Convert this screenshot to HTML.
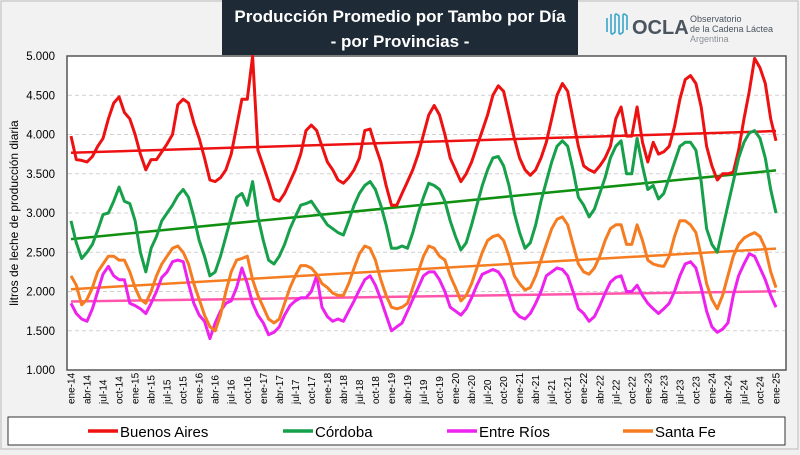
<!DOCTYPE html>
<html><head><meta charset="utf-8"><style>
body{margin:0;width:800px;height:450px;overflow:hidden;background:#f0f0f0;font-family:"Liberation Sans",sans-serif}
#wrap{position:relative;width:800px;height:450px}
</style></head><body>
<div id="wrap">
<svg id="chart" width="800" height="450" xmlns="http://www.w3.org/2000/svg">
<rect x="1" y="1" width="797" height="448" fill="#f2f2f2" stroke="#bbb"/>
<rect x="67" y="56" width="719" height="314" fill="#fff" stroke="#555" stroke-width="1.5"/>
<g id="grid"></g>
<g id="yticks"></g>
<g id="xticks"></g>
<g id="trends"></g>
<g id="series"></g>
<rect x="222" y="0" width="356" height="55" fill="#1e2a36"/>
<text x="400" y="22" text-anchor="middle" fill="#fff" font-size="17" font-weight="bold">Producción Promedio por Tambo por Día</text>
<text x="400" y="47" text-anchor="middle" fill="#fff" font-size="17" font-weight="bold">- por Provincias -</text>
<g>
<path d="M607 18 v14 M611 14 v18 q0 4 4 0 v-16 q0 -4 4 0 v16 q0 4 4 0 v-16 q0 -4 4 0 v14" stroke="#3aa6c9" stroke-width="1.6" fill="none"/>
<text x="632" y="34" font-size="20" font-weight="bold" fill="#4a5560">OCLA</text>
<text x="690" y="22" font-size="9" fill="#4a5560">Observatorio</text>
<text x="690" y="32" font-size="9" fill="#4a5560">de la Cadena Láctea</text>
<text x="690" y="42" font-size="9" fill="#8a9098">Argentina</text>
</g>
<text transform="translate(18,213) rotate(-90)" text-anchor="middle" font-size="12" fill="#000">litros de leche de producción diaria</text>
<rect x="8" y="417" width="777" height="28" fill="#fff" stroke="#333"/>
<g id="legend"></g>
</svg>
</div>
<script>
const tickLabels=["1.000","1.500","2.000","2.500","3.000","3.500","4.000","4.500","5.000"];
const tickValues=[1,1.5,2,2.5,3,3.5,4,4.5,5];
const monthNames=["ene","feb","mar","abr","may","jun","jul","ago","sep","oct","nov","dic"];
const seriesNames=["Buenos Aires","Córdoba","Entre Ríos","Santa Fe"];
const buenosAires=[3.98,3.68,3.67,3.65,3.72,3.85,3.95,4.20,4.40,4.48,4.28,4.20,
4.00,3.75,3.55,3.68,3.68,3.78,3.88,4.00,4.38,4.45,4.40,4.15,
3.95,3.70,3.42,3.40,3.45,3.55,3.75,4.10,4.45,4.45,5.00,3.80,
3.60,3.40,3.18,3.15,3.25,3.40,3.55,3.75,4.05,4.12,4.05,3.85,
3.65,3.55,3.42,3.38,3.45,3.55,3.70,4.05,4.07,3.85,3.65,3.35,
3.10,3.10,3.25,3.40,3.55,3.75,4.00,4.25,4.37,4.25,4.00,3.70,
3.55,3.40,3.50,3.65,3.85,4.05,4.25,4.50,4.62,4.55,4.25,3.95,
3.70,3.55,3.48,3.55,3.70,3.90,4.20,4.50,4.65,4.55,4.20,3.85,
3.60,3.55,3.52,3.60,3.70,3.85,4.20,4.35,3.98,3.98,4.35,3.90,
3.65,3.90,3.75,3.78,3.85,4.10,4.45,4.70,4.75,4.65,4.35,3.85,
3.60,3.42,3.50,3.50,3.52,3.80,4.20,4.55,4.97,4.85,4.65,4.20,
3.92];
const cordoba=[2.90,2.62,2.42,2.50,2.60,2.78,2.98,3.00,3.15,3.33,3.15,3.12,
2.90,2.50,2.25,2.55,2.70,2.90,3.00,3.10,3.22,3.30,3.20,2.95,
2.65,2.45,2.20,2.25,2.45,2.70,2.95,3.20,3.25,3.10,3.40,2.95,
2.65,2.40,2.35,2.45,2.60,2.80,2.95,3.10,3.12,3.15,3.05,2.95,
2.85,2.80,2.75,2.72,2.90,3.10,3.25,3.35,3.40,3.30,3.10,2.85,
2.55,2.55,2.58,2.55,2.75,3.00,3.20,3.38,3.35,3.30,3.15,2.90,
2.70,2.53,2.62,2.85,3.10,3.35,3.55,3.70,3.72,3.60,3.35,3.00,
2.75,2.55,2.62,2.85,3.15,3.40,3.65,3.85,3.92,3.85,3.55,3.20,
3.10,2.95,3.05,3.25,3.45,3.70,3.85,3.92,3.50,3.50,3.95,3.60,
3.30,3.35,3.18,3.25,3.45,3.65,3.85,3.90,3.90,3.80,3.40,2.80,
2.60,2.50,2.80,3.10,3.40,3.70,3.90,4.02,4.05,3.95,3.70,3.30,
3.00];
const entreRios=[1.85,1.72,1.65,1.62,1.78,2.00,2.22,2.32,2.20,2.15,2.15,1.85,
1.82,1.78,1.72,1.85,2.00,2.18,2.25,2.38,2.40,2.38,2.10,1.85,
1.70,1.62,1.40,1.60,1.75,1.85,1.88,2.05,2.30,2.10,1.85,1.70,
1.60,1.45,1.48,1.55,1.70,1.82,1.88,1.92,1.92,2.00,2.20,1.80,
1.68,1.62,1.65,1.62,1.75,1.88,2.02,2.15,2.20,2.08,1.90,1.70,
1.50,1.55,1.60,1.75,1.90,2.05,2.20,2.25,2.25,2.15,2.00,1.80,
1.75,1.70,1.78,1.92,2.08,2.22,2.25,2.28,2.25,2.15,1.95,1.75,
1.68,1.65,1.72,1.85,2.00,2.20,2.25,2.30,2.28,2.20,2.00,1.78,
1.72,1.62,1.68,1.82,1.98,2.12,2.18,2.20,2.00,2.00,2.08,1.95,
1.85,1.78,1.72,1.78,1.85,2.00,2.20,2.35,2.38,2.30,2.05,1.75,
1.55,1.48,1.52,1.60,1.95,2.20,2.35,2.48,2.45,2.30,2.15,1.95,
1.80];
const santaFe=[2.20,2.08,1.83,1.90,2.05,2.25,2.35,2.45,2.45,2.40,2.40,2.25,
2.05,1.90,1.85,2.00,2.20,2.35,2.45,2.55,2.58,2.50,2.35,2.10,
1.90,1.70,1.55,1.50,1.70,2.00,2.25,2.40,2.42,2.45,2.15,1.95,
1.80,1.65,1.60,1.65,1.85,2.05,2.20,2.33,2.33,2.30,2.22,2.10,
2.05,1.98,1.95,1.95,2.10,2.30,2.48,2.58,2.55,2.40,2.15,1.95,
1.80,1.78,1.80,1.85,2.05,2.25,2.45,2.58,2.55,2.45,2.40,2.20,
2.05,1.88,1.95,2.10,2.30,2.50,2.65,2.70,2.72,2.65,2.45,2.20,
2.10,2.02,2.05,2.20,2.40,2.60,2.80,2.92,2.95,2.85,2.60,2.35,
2.25,2.22,2.30,2.45,2.65,2.80,2.85,2.85,2.60,2.60,2.85,2.65,
2.40,2.35,2.33,2.32,2.45,2.70,2.90,2.90,2.85,2.75,2.45,2.10,
1.90,1.78,1.95,2.20,2.45,2.60,2.68,2.72,2.75,2.70,2.55,2.25,
2.05];
const seriesColors=["#ee1111","#16a04a","#ee22ee","#f57c20"];
const trendColors=["#ee1111","#109010","#ff55aa","#f57c20"];
const NS="http://www.w3.org/2000/svg";
const X0=71,X1=776,Y0=370,Y1=56,VMIN=1,VMAX=5;
const N=buenosAires.length;
function xs(i){return X0+(X1-X0)*i/(N-1);}
function ys(v){return Y0-(v-VMIN)/(VMAX-VMIN)*(Y0-Y1);}
function mk(tag,attrs,parent){const e=document.createElementNS(NS,tag);for(const k in attrs)e.setAttribute(k,attrs[k]);parent.appendChild(e);return e;}
const grid=document.getElementById('grid'),yt=document.getElementById('yticks'),xt=document.getElementById('xticks');
tickValues.forEach((v,i)=>{
  if(v>VMIN&&v<VMAX){const l=mk('line',{x1:68,x2:785,y1:ys(v),y2:ys(v),stroke:'#d0d0d0','stroke-dasharray':'4,3'},grid);
  
  }
  const t=mk('text',{x:55,y:ys(v)+4,'text-anchor':'end','font-size':'11.5',fill:'#000'},yt);
  t.textContent=tickLabels[i];
  
  
});
for(let i=0;i<N;i+=3){
  const yr=14+Math.floor(i/12);
  const t=mk('text',{transform:`translate(${xs(i)+3.5},404) rotate(-90)`,'font-size':'10',fill:'#000'},xt);
  t.textContent=monthNames[i%12]+'-'+yr;
  
  
}
const allSeries=[buenosAires,cordoba,entreRios,santaFe];
const sg=document.getElementById('series'),tg=document.getElementById('trends');
allSeries.forEach((d,s)=>{
  let sx=0,sy=0,sxx=0,sxy=0;
  d.forEach((v,i)=>{sx+=i;sy+=v;sxx+=i*i;sxy+=i*v;});
  const b=(N*sxy-sx*sy)/(N*sxx-sx*sx),a=(sy-b*sx)/N;
  const tl=mk('line',{x1:xs(0),y1:ys(a),x2:xs(N-1),y2:ys(a+b*(N-1)),stroke:trendColors[s],'stroke-width':2.5},tg);
  
  
  const p=mk('polyline',{points:d.map((v,i)=>xs(i).toFixed(1)+','+ys(v).toFixed(1)).join(' '),fill:'none',stroke:seriesColors[s],'stroke-width':3,'stroke-linejoin':'round'},sg);
  
  
});
const lg=document.getElementById('legend');
const legX=[88,283,447,623];
seriesNames.forEach((n,s)=>{
  const l=mk('line',{x1:legX[s],x2:legX[s]+30,y1:431,y2:431,stroke:seriesColors[s],'stroke-width':3.5},lg);
  
  
  const t=mk('text',{x:legX[s]+32,y:437,'font-size':'15',fill:'#000'},lg);
  t.textContent=n;
  
  
});
</script>
</body></html>
